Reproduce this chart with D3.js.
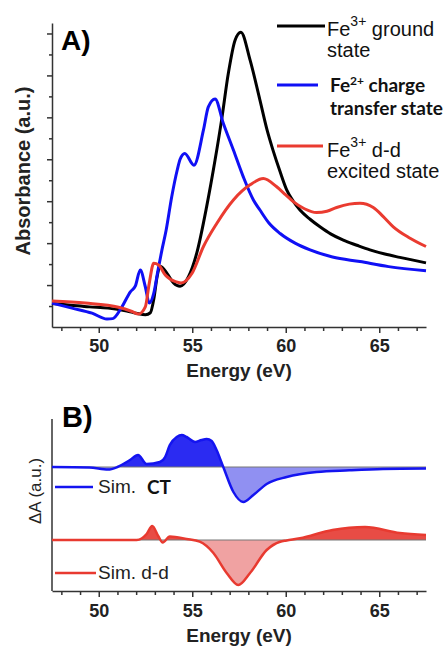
<!DOCTYPE html>
<html>
<head>
<meta charset="utf-8">
<script src="https://cdn.jsdelivr.net/npm/d3@7"></script>
<style>
    body { margin: 0; background: #fff; }
    svg { display: block; font-family: "Liberation Sans", Arial, sans-serif; }
    .axis path, .axis line { stroke: #333; stroke-width: 1.5; }
    .tick-label text { font-size: 18px; font-weight: bold; fill: #222; font-family: "Liberation Sans", Arial, sans-serif; }
</style>
</head>
<body>
<div id="chart"></div>
<script>
// Energy axis
const energyDomain = [47.5, 67.5];
const energyTicks = [50, 55, 60, 65];
const energyMinorTicks = [48, 49, 51, 52, 53, 54, 56, 57, 58, 59, 61, 62, 63, 64, 66, 67];

// Panel A spectra: [energy (eV), absorbance (a.u.)]
const groundState = [
    [47.5, 0.56], [48.5, 0.52], [49.5, 0.48], [50.5, 0.45], [51.5, 0.38], [52.0, 0.33],
    [52.5, 0.29], [52.76, 0.34], [52.95, 0.68], [53.12, 1.2], [53.3, 1.44], [53.65, 1.28],
    [54.0, 1.05], [54.35, 0.97], [54.8, 1.2], [55.24, 1.76], [55.77, 2.87], [56.22, 3.98],
    [56.57, 4.94], [56.93, 6.05], [57.29, 6.84], [57.6, 7.03], [58.09, 6.37], [58.62, 5.41],
    [59.0, 4.7], [59.33, 4.2], [59.7, 3.7], [60.05, 3.27], [60.4, 3.0], [60.76, 2.79],
    [61.3, 2.57], [61.83, 2.39], [62.4, 2.22], [63.08, 2.07], [63.8, 1.95], [64.5, 1.84],
    [65.3, 1.74], [66.1, 1.66], [67.5, 1.53]
];
const chargeTransfer = [
    [47.5, 0.57], [48.57, 0.45], [49.64, 0.33], [50.44, 0.19], [50.75, 0.2], [51.24, 0.48],
    [51.69, 0.84], [51.96, 0.98], [52.22, 1.36], [52.49, 0.96], [52.7, 0.57], [52.94, 0.8],
    [53.17, 1.36], [53.38, 1.84], [53.6, 2.3], [53.9, 3.1], [54.2, 3.75], [54.35, 4.0],
    [54.6, 4.14], [55.09, 3.86], [55.6, 4.7], [55.86, 5.25], [56.22, 5.44], [56.66, 4.86],
    [57.2, 4.22], [57.73, 3.58], [58.27, 3.03], [58.62, 2.79], [59.1, 2.48], [59.7, 2.23],
    [60.5, 2.0], [61.3, 1.84], [62.5, 1.67], [63.97, 1.56], [65.5, 1.44], [67.5, 1.34]
];
const ddExcited = [
    [47.5, 0.62], [49.28, 0.57], [51.06, 0.47], [51.78, 0.37], [52.13, 0.31], [52.49, 0.48],
    [52.7, 1.04], [52.94, 1.52], [53.2, 1.48], [53.56, 1.24], [54.1, 1.08], [54.4, 1.05],
    [54.99, 1.28], [55.6, 1.92], [56.31, 2.47], [57.2, 3.03], [58.09, 3.39], [58.8, 3.54],
    [59.5, 3.35], [60.0, 3.15], [60.4, 2.99], [61.0, 2.82], [61.65, 2.73], [62.2, 2.76],
    [62.72, 2.85], [63.4, 2.93], [63.97, 2.95], [64.68, 2.85], [65.2, 2.64], [65.75, 2.39],
    [66.6, 2.13], [67.5, 1.92]
];

// Panel B difference spectra: [energy (eV), dA (a.u.)]
const diffCT = [
    [47.5, 0], [49.5, -0.005], [50.5, -0.026], [51.0, 0.0], [51.67, 0.07], [52.1, 0.12],
    [52.56, 0.03], [53.27, 0.05], [53.55, 0.1], [53.8, 0.22], [54.17, 0.3], [54.44, 0.32],
    [54.7, 0.3], [55.15, 0.25], [55.5, 0.27], [55.77, 0.28], [56.04, 0.26], [56.3, 0.17],
    [56.66, 0.0], [57.2, -0.25], [57.73, -0.35], [58.27, -0.28], [58.98, -0.17], [60.05, -0.1],
    [61.65, -0.05], [63.4, -0.033], [65.2, -0.02], [67.5, -0.015]
];
const diffDD = [
    [47.5, 0], [51.5, 0], [52.03, 0.0], [52.56, 0.06], [52.86, 0.14], [53.18, 0.04],
    [53.42, -0.025], [53.8, 0.035], [54.7, 0.01], [55.4, -0.017], [56.13, -0.13], [56.84, -0.33],
    [57.46, -0.45], [58.09, -0.33], [58.98, -0.1], [59.7, -0.017], [60.05, -0.005], [60.76, 0.017],
    [62.5, 0.1], [64.24, 0.13], [66.1, 0.07], [67.5, 0.05]
];
const diffOffsets = [0, -0.73];

const width = 447;
const height = 646;

const svg = d3.select('#chart')
    .append('svg')
    .attr('width', width)
    .attr('height', height);

const defs = svg.append('defs');

const x = d3.scaleLinear().domain(energyDomain).range([52, 426]);
const yA = d3.scaleLinear().domain([0, 7.25]).range([327, 23]);
const yB = d3.scaleLinear().domain([-1.24, 0.48]).range([591, 419]);

// Draw an energy axis with major + minor ticks
function drawEnergyAxis(y0, padding, titleY) {
    svg.append('g')
        .attr('class', 'axis')
        .attr('transform', `translate(0,${y0})`)
        .call(d3.axisBottom(x).tickValues(energyMinorTicks).tickSize(4).tickSizeOuter(0).tickFormat(''));
    svg.append('g')
        .attr('class', 'axis tick-label')
        .attr('transform', `translate(0,${y0})`)
        .call(d3.axisBottom(x).tickValues(energyTicks).tickSize(6).tickSizeOuter(0).tickPadding(padding).tickFormat(d3.format('d')))
        .call(g => g.select('.domain').remove());
    svg.append('text')
        .attr('x', 239)
        .attr('y', titleY)
        .attr('text-anchor', 'middle')
        .style('font-size', '19px')
        .style('font-weight', 'bold')
        .style('fill', '#222')
        .text('Energy (eV)');
}

// ---------- Panel A ----------
svg.append('g')
    .attr('class', 'axis')
    .attr('transform', 'translate(52,0)')
    .call(d3.axisLeft(yA).tickValues(d3.range(0.5, 7.5, 1)).tickSize(3).tickSizeOuter(0).tickFormat(''));
svg.append('g')
    .attr('class', 'axis')
    .attr('transform', 'translate(52,0)')
    .call(d3.axisLeft(yA).tickValues(d3.range(1, 8, 1)).tickSize(5).tickFormat(''))
    .call(g => g.select('.domain').remove());

drawEnergyAxis(327, 6, 377);

const lineA = d3.line()
    .x(d => x(d[0]))
    .y(d => yA(d[1]))
    .curve(d3.curveMonotoneX);

const spectra = [
    { data: groundState, color: '#000' },
    { data: chargeTransfer, color: '#1010f5' },
    { data: ddExcited, color: '#ea3b30' }
];
spectra.forEach(s => {
    svg.append('path')
        .datum(s.data)
        .attr('d', lineA)
        .attr('fill', 'none')
        .attr('stroke', s.color)
        .attr('stroke-width', 3)
        .attr('stroke-linejoin', 'round');
});

svg.append('text')
    .attr('x', 61)
    .attr('y', 50)
    .style('font-size', '28px')
    .style('font-weight', 'bold')
    .text('A)');

svg.append('text')
    .attr('transform', 'translate(30,171) rotate(-90)')
    .attr('text-anchor', 'middle')
    .style('font-size', '20px')
    .style('font-weight', 'bold')
    .style('fill', '#222')
    .text('Absorbance (a.u.)');

// Legend A
const legendA = [
    { y: 26, x2: 325, color: '#000' },
    { y: 85, x2: 318, color: '#1010f5' },
    { y: 146, x2: 323, color: '#ea3b30' }
];
legendA.forEach(l => {
    svg.append('line')
        .attr('x1', 277).attr('x2', l.x2)
        .attr('y1', l.y).attr('y2', l.y)
        .attr('stroke', l.color)
        .attr('stroke-width', 3);
});

function legendLabel(xPos, yPos, first, sup, rest, second, opts) {
    const t = svg.append('text')
        .attr('x', xPos)
        .attr('y', yPos)
        .style('font-size', opts.size + 'px')
        .style('font-family', opts.family)
        .style('font-weight', opts.weight)
        .style('fill', '#111');
    t.append('tspan').text(first);
    t.append('tspan').attr('dy', -opts.rise).style('font-size', opts.supSize + 'px').text(sup);
    t.append('tspan').attr('dy', opts.rise).text(rest);
    svg.append('text')
        .attr('x', xPos)
        .attr('y', yPos + opts.lineGap)
        .style('font-size', opts.size + 'px')
        .style('font-family', opts.family)
        .style('font-weight', opts.weight)
        .style('fill', '#111')
        .text(second);
}

const regular = { size: 20, supSize: 14, rise: 10, lineGap: 21, family: '"Liberation Sans", Arial, sans-serif', weight: 'normal' };
const boldLato = { size: 19, supSize: 12, rise: 7, lineGap: 23, family: 'Lato, sans-serif', weight: 'bold' };
legendLabel(327, 36, 'Fe', '3+', '\u00a0ground', 'state', regular);
legendLabel(330, 92, 'Fe', '2+', ' charge', 'transfer state', boldLato);
legendLabel(327, 157, 'Fe', '3+', '\u00a0d-d', 'excited state', regular);

// ---------- Panel B ----------
svg.append('line')
    .attr('x1', 52).attr('x2', 52)
    .attr('y1', 419).attr('y2', 591)
    .attr('stroke', '#333')
    .attr('stroke-width', 1.5);

drawEnergyAxis(591, 7, 642);

const diffs = [
    { data: diffCT, offset: diffOffsets[0], line: '#1414f0', pos: '#2b2bf2', neg: '#9090f2' },
    { data: diffDD, offset: diffOffsets[1], line: '#e83a30', pos: '#e84c45', neg: '#f0a2a2' }
];

diffs.forEach((s, i) => {
    const zeroY = yB(s.offset);
    defs.append('clipPath').attr('id', `above-${i}`)
        .append('rect').attr('x', 0).attr('y', 0).attr('width', width).attr('height', zeroY);
    defs.append('clipPath').attr('id', `below-${i}`)
        .append('rect').attr('x', 0).attr('y', zeroY).attr('width', width).attr('height', height - zeroY);

    const area = d3.area()
        .x(d => x(d[0]))
        .y0(zeroY)
        .y1(d => yB(d[1] + s.offset))
        .curve(d3.curveMonotoneX);

    svg.append('path').datum(s.data).attr('d', area)
        .attr('fill', s.pos).attr('clip-path', `url(#above-${i})`);
    svg.append('path').datum(s.data).attr('d', area)
        .attr('fill', s.neg).attr('clip-path', `url(#below-${i})`);

    // zero reference
    svg.append('line')
        .attr('x1', 52).attr('x2', 426)
        .attr('y1', zeroY).attr('y2', zeroY)
        .attr('stroke', '#777')
        .attr('stroke-width', 1);

    svg.append('path').datum(s.data)
        .attr('d', area.lineY1())
        .attr('fill', 'none')
        .attr('stroke', s.line)
        .attr('stroke-width', 2.5);
});

svg.append('text')
    .attr('x', 62)
    .attr('y', 427)
    .style('font-size', '29px')
    .style('font-weight', 'bold')
    .text('B)');

svg.append('text')
    .attr('transform', 'translate(41,491) rotate(-90)')
    .attr('text-anchor', 'middle')
    .style('font-size', '17px')
    .style('fill', '#222')
    .text('\u0394A (a.u.)');

// Legend B
svg.append('line').attr('x1', 55).attr('x2', 93).attr('y1', 487).attr('y2', 487)
    .attr('stroke', '#1414f0').attr('stroke-width', 2.5);
svg.append('text').attr('x', 98).attr('y', 493)
    .style('font-size', '19px').style('fill', '#222').text('Sim.');
svg.append('text').attr('x', 147).attr('y', 494)
    .style('font-size', '19px').style('font-family', 'Lato, sans-serif').style('font-weight', 'bold')
    .style('fill', '#111').text('CT');

svg.append('line').attr('x1', 55).attr('x2', 96).attr('y1', 573).attr('y2', 573)
    .attr('stroke', '#e83a30').attr('stroke-width', 2.5);
svg.append('text').attr('x', 98).attr('y', 579)
    .style('font-size', '19px').style('fill', '#222').text('Sim. d-d');
</script>
</body>
</html>
